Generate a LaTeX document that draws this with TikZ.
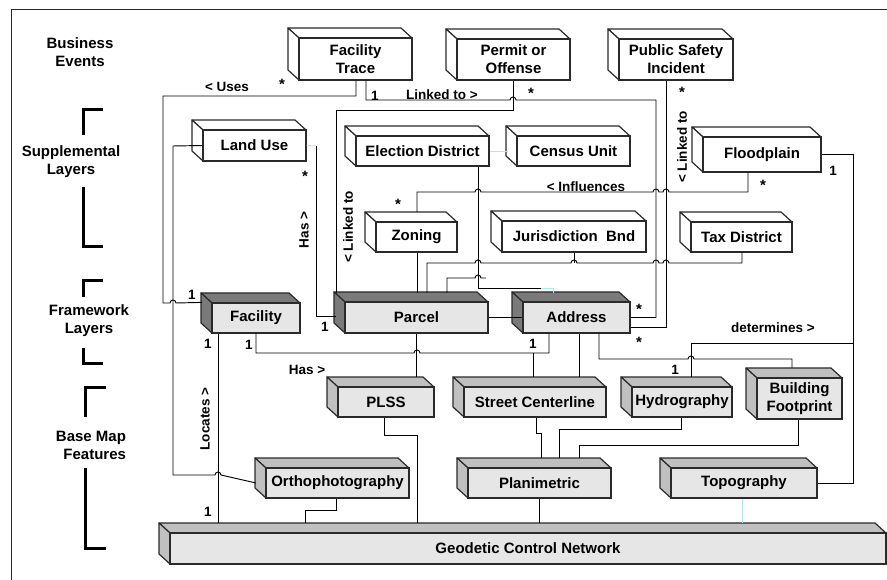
\documentclass[tikz,border=0pt]{standalone}
\usepackage{fontspec}
\setmainfont{Liberation Sans}
\definecolor{bline}{HTML}{2A2A2A}
\definecolor{frontgray}{HTML}{E6E6E6}
\definecolor{darkside}{HTML}{7A7A7A}
\definecolor{lightside}{HTML}{C0C0C0}
\definecolor{cyanline}{HTML}{A8ECF2}
\newcommand\cuboid[7]{%
  \path[#6side] (#2,#3) -- (#2-11,#3-10) -- (#4-11,#3-10) -- (#4,#3) -- cycle;
  \path[#6side] (#2,#3) -- (#2-11,#3-10) -- (#2-11,#5-10) -- (#2,#5) -- cycle;
  \node[#6front, minimum width={#4-#2}, minimum height={#5-#3}] (#1) at ({(#2+#4)/2},{(#3+#5)/2}) {#7};
}
\begin{document}
\begin{tikzpicture}[x=1pt,y=-1pt,
  conn/.style={line width=0.95pt, draw=black, line join=miter},
  cy/.style={line width=0.95pt, draw=cyanline},
  brk/.style={line width=3pt, draw=black},
  lab/.style={font=\fontsize{13.5}{15}\selectfont\bfseries, inner sep=0},
  star/.style={lab, font=\fontsize{15}{15}\selectfont\bfseries, yshift=-3pt},
  cat/.style={font=\fontsize{15}{18}\selectfont\bfseries, align=center, inner sep=0},
  boxtxt/.style={font=\fontsize{15}{18}\selectfont\bfseries, align=center, inner sep=0, line width=1.2pt, draw=bline},
  evtside/.style={fill=white, draw=bline, line width=1.2pt, line join=round},
  evtfront/.style={boxtxt, fill=white},
  fwside/.style={fill=darkside, draw=bline, line width=1.2pt, line join=round},
  fwfront/.style={boxtxt, fill=frontgray},
  bmside/.style={fill=lightside, draw=bline, line width=1.2pt, line join=round},
  bmfront/.style={boxtxt, fill=frontgray}]
\useasboundingbox (0,0) rectangle (887,580);
% frame
\draw[line width=0.9pt, black!85] (11,590) -- (11,9) -- (897,9);
% category labels
\node[cat] (c1) at (80,52) {Business\\Events};
\node[cat] (c2) at (71,162) {Supplemental\\Layers};
\node[cat] (c3) at (89,321) {Framework\\Layers};
\node[cat, align=right] (c4) at (91,445) {Base Map\\Features};
\draw[brk] (103,110) -- (83,110) -- (83,135);
\draw[brk] (83,187) -- (83,247) -- (103,247);
\draw[brk] (103,281) -- (83,281) -- (83,297);
\draw[brk] (83,348) -- (83,363) -- (103,363);
\draw[brk] (106,387) -- (85,387) -- (85,417);
\draw[brk] (85,468) -- (85,548) -- (106,548);
% boxes
\cuboid{ft}{299}{38}{412}{80}{evt}{Facility\\Trace}
\cuboid{po}{457}{39}{570}{80}{evt}{Permit or\\Offense}
\cuboid{psi}{619}{39}{733}{80}{evt}{Public Safety\\Incident}
\cuboid{lu}{203}{130}{306}{161}{evt}{Land Use}
\cuboid{ed}{356}{136}{489}{166}{evt}{Election District}
\cuboid{cu}{517}{136}{630}{166}{evt}{Census Unit}
\cuboid{fp}{703}{137}{821}{172}{evt}{Floodplain}
\cuboid{zon}{376}{222}{457}{252}{evt}{Zoning}
\cuboid{jb}{502}{221}{646}{252}{evt}{Jurisdiction\ \ Bnd}
\cuboid{tax}{691}{222}{792}{252}{evt}{Tax District}
\cuboid{fac}{212}{303}{300}{333}{fw}{Facility}
\cuboid{par}{345}{302}{488}{333}{fw}{Parcel}
\cuboid{add}{523}{302}{630}{333}{fw}{Address}
\cuboid{plss}{338}{387}{434}{417}{bm}{PLSS}
\cuboid{sc}{464}{387}{606}{417}{bm}{Street Centerline}
\cuboid{hy}{632}{387}{732}{417}{bm}{Hydrography}
\cuboid{bf}{757}{378}{842}{419}{bm}{Building\\Footprint}
\cuboid{orth}{266}{468}{409}{498}{bm}{Orthophotography}
\cuboid{plan}{468}{468}{611}{498}{bm}{Planimetric}
\cuboid{topo}{671}{468}{817}{498}{bm}{Topography}
\cuboid{gcn}{170}{533}{886}{564}{bm}{Geodetic Control Network}
% connectors
% Uses
\draw[conn] (ft.south -| 356,0) -- (356,96) -- (163,96) -- (163,303) -- (170,303)
  arc[start angle=180,end angle=0,radius=3pt] -- (fac.north west -| 202,0);
% Land Use -> Orthophotography
\draw[conn] (lu.west) -- (173,146) -- (173,475) -- (215,475)
  arc[start angle=180,end angle=0,radius=3pt] -- (orth.west -| 256,0 |- 0,475);
% Land Use -> Parcel
\draw[cy] (lu.east) -- (316,146);
\draw[conn] (316,146) -- (316,316) -- (336,316);
% Facility Trace -> Address
\draw[conn] (ft.south -| 366,0) -- (366,100) -- (510,100)
  arc[start angle=180,end angle=0,radius=3pt] -- (656,100) |- (add.east);
% Public Safety -> Address
\draw[conn] (psi.south -| 666,0) -- (666,327) -- (add.east |- 0,327);
% Permit -> Parcel
\draw[conn] (po.south -| 513,0) -- (513,110) -| (336,293);
% Floodplain -> Zoning
\draw[conn] (fp.south -| 748,0) -- (748,192) -- (669,192)
  arc[start angle=0,end angle=180,radius=3pt] -- (659,192)
  arc[start angle=0,end angle=180,radius=3pt] -- (481,192)
  arc[start angle=0,end angle=180,radius=3pt] -- (417,192) -- (417,212);
% Jurisdiction
\draw[conn] (jb.south -| 574,0) -- (574,263);
% Tax District -> Parcel
\draw[conn] (tax.south -| 742,0) -- (742,263) -- (669,263)
  arc[start angle=0,end angle=180,radius=3pt] -- (659,263)
  arc[start angle=0,end angle=180,radius=3pt] -- (577,263)
  arc[start angle=0,end angle=180,radius=3pt] -- (481,263)
  arc[start angle=0,end angle=180,radius=3pt] -- (427,263) -- (427,293);
% Parcel short link
\draw[conn] (447,293) -- (447,278) -- (475,278)
  arc[start angle=180,end angle=0,radius=3pt] -- (486,278);
% Election District -> Address
\draw[conn] (ed.south -| 478,0) -- (478,288) -- (541,288);
\draw[cy] (541,288) -- (553,288) -- (553,293);
% Election - Census
\draw[cy] (ed.east) -- (cu.west -| 508,0);
% Zoning -> Parcel
\draw[conn] (zon.south -| 417,0) -- (417,293);
% Parcel - Address
\draw[conn] (par.east) -- (add.west);
% Parcel -> PLSS
\draw[conn] (par.south) -- (par.south |- 0,377);
% Facility -> Address (Has)
\draw[conn] (fac.south -| 256,0) -- (256,353) -- (414,353)
  arc[start angle=180,end angle=0,radius=3pt] -- (549,353) -- (add.south -| 549,0);
% Street Centerline up
\draw[conn] (533,377) -- (533,353);
\draw[conn] (add.south -| 579,0) -- (579,377);
% Address -> Building
\draw[conn] (add.south -| 599,0) -- (599,359) -- (688,359)
  arc[start angle=180,end angle=0,radius=3pt] -- (792,359) -- (792,368);
% Hydrography -> determines
\draw[conn] (691,377) -- (691,343) -- (853,343);
% Floodplain -> Topography
\draw[conn] (fp.east) -| (853,483) -- (topo.east);
% base links
\draw[conn] (sc.south -| 536,0) -- (536,433) -- (541,433) -- (541,458);
\draw[conn] (hy.south -| 681,0) -- (681,429) -- (559,429) -- (559,458);
\draw[conn] (bf.south -| 798,0) -- (798,445) -- (579,445) -- (579,458);
\draw[conn] (plan.south -| 539,0) -- (539,523);
\draw[cy] (topo.south -| 742,0) -- (742,523);
\draw[conn] (plss.south -| 384,0) -- (384,435) -- (417,435) -- (417,523);
\draw[conn] (orth.south -| 336,0) -- (336,510) -- (305,510) -- (305,523);
\draw[conn] (fac.south -| 218,0) -- (218,523);
% labels
\node[lab] (l1) at (227,87) {< Uses};
\node[star] (s1) at (282,81) {*};
\node[lab] (n1) at (192,295) {1};
\node[star] (s2) at (305,173) {*};
\node[lab, rotate=90] (l2) at (304,230) {Has >};
\node[lab] (n2) at (325,327) {1};
\node[lab] (n3) at (375,96) {1};
\node[lab] (l3) at (442,95) {Linked to >};
\node[star] (s3) at (531,90) {*};
\node[lab, rotate=90] (l4) at (348,227) {< Linked to};
\node[star] (s4) at (682,89) {*};
\node[lab, rotate=90] (l5) at (682,147) {< Linked to};
\node[star] (s5) at (639,306) {*};
\node[star] (s6) at (639,339) {*};
\node[star] (s7) at (763,182) {*};
\node[star] (s8) at (398,201) {*};
\node[lab] (l6) at (586,187) {< Influences};
\node[lab] (n4) at (833,171) {1};
\node[lab] (l7) at (773,328) {determines >};
\node[lab] (n5) at (675,370) {1};
\node[lab] (n6) at (249,345) {1};
\node[lab] (n7) at (533,344) {1};
\node[lab] (l8) at (307,370) {Has >};
\node[lab] (n8) at (208,344) {1};
\node[lab] (n9) at (208,512) {1};
\node[lab, rotate=90] (l9) at (205,419) {Locates >};
\end{tikzpicture}
\end{document}
